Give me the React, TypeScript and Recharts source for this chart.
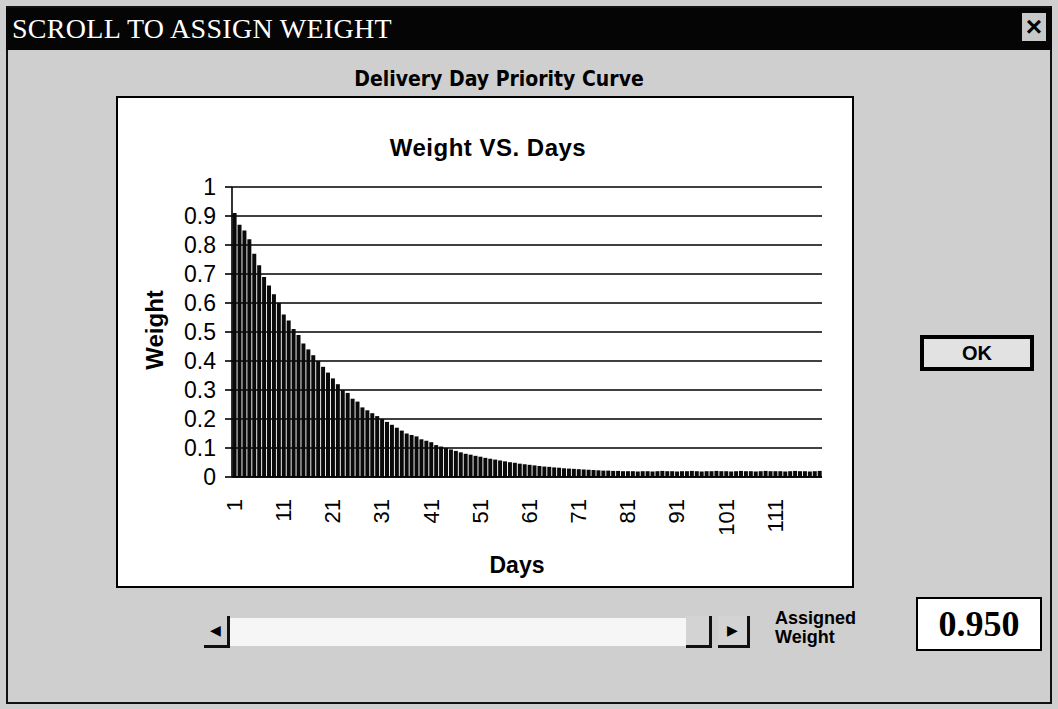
import { BarChart, Bar, XAxis, YAxis, CartesianGrid } from "recharts";

// day numbers on the category axis
const days = Array.from({ length: 120 }, (_, i) => i + 1);

// weight per day
const weights = [
  0.91, 0.87, 0.85, 0.82, 0.77, 0.73, 0.69, 0.66, 0.63, 0.6,
  0.56, 0.54, 0.51, 0.49, 0.46, 0.44, 0.42, 0.4, 0.38, 0.36,
  0.34, 0.32, 0.3, 0.29, 0.27, 0.26, 0.24, 0.23, 0.22, 0.21,
  0.2, 0.19, 0.18, 0.17, 0.16, 0.15, 0.145, 0.14, 0.13, 0.125,
  0.12, 0.11, 0.105, 0.1, 0.095, 0.09, 0.085, 0.08, 0.077, 0.073,
  0.07, 0.066, 0.063, 0.06, 0.057, 0.054, 0.051, 0.049, 0.046, 0.044,
  0.042, 0.04, 0.038, 0.036, 0.035, 0.033, 0.032, 0.03, 0.029, 0.028,
  0.027, 0.026, 0.025, 0.024, 0.023, 0.022, 0.022, 0.021, 0.021, 0.02,
  0.02, 0.02, 0.019, 0.02, 0.02, 0.019, 0.02, 0.021, 0.02, 0.02,
  0.019, 0.02, 0.02, 0.021, 0.02, 0.019, 0.02, 0.02, 0.021, 0.02,
  0.02, 0.019, 0.02, 0.021, 0.02, 0.02, 0.019, 0.02, 0.021, 0.02,
  0.02, 0.02, 0.019, 0.02, 0.021, 0.02, 0.02, 0.019, 0.02, 0.021,
];

const yTicks = [0, 0.1, 0.2, 0.3, 0.4, 0.5, 0.6, 0.7, 0.8, 0.9, 1];

const data = days.map((d, i) => ({ day: d, w: weights[i] }));

const sans = "'Liberation Sans', Arial, sans-serif";
const narrow = "'Liberation Sans Narrow', 'DejaVu Sans Condensed', Arial, sans-serif";
const serif = "'Liberation Serif', 'Times New Roman', serif";

const DayTick = (props: any) => {
  const { x, y, payload } = props;
  const ty = y + 22;
  return (
    <text
      x={x}
      y={ty}
      transform={`rotate(-90 ${x} ${ty})`}
      textAnchor="end"
      dominantBaseline="central"
      fontFamily={sans}
      fontSize={22}
      fill="#000"
    >
      {payload.value}
    </text>
  );
};

export default function App() {
  return (
    <div
      style={{
        position: "absolute",
        left: 0,
        top: 0,
        width: 1058,
        height: 709,
        background: "#cfcfcf",
        overflow: "hidden",
        fontFamily: sans,
      }}
    >
      {/* dialog frame */}
      <div
        style={{
          position: "absolute",
          left: 6,
          top: 6,
          width: 1046,
          height: 698,
          border: "2px solid #111",
          boxSizing: "border-box",
        }}
      />
      {/* title bar */}
      <div
        style={{
          position: "absolute",
          left: 6,
          top: 8,
          width: 1046,
          height: 42,
          background: "#050505",
        }}
      >
        <span
          style={{
            position: "absolute",
            left: 6,
            top: 5,
            color: "#fff",
            fontFamily: serif,
            fontSize: 28,
            letterSpacing: 0.3,
          }}
        >
          SCROLL TO ASSIGN WEIGHT
        </span>
        <div
          style={{
            position: "absolute",
            right: 6,
            top: 5,
            width: 24,
            height: 28,
            background: "#c8c8c8",
            color: "#000",
            fontWeight: 900,
            fontSize: 28,
            textAlign: "center",
            lineHeight: "28px",
          }}
        >
          ×
        </div>
      </div>

      <div
        style={{
          position: "absolute",
          left: 344,
          top: 67,
          width: 310,
          textAlign: "center",
          fontFamily: narrow,
          fontWeight: 700,
          fontSize: 21,
          color: "#000",
        }}
      >
        Delivery Day Priority Curve
      </div>

      {/* chart box */}
      <div
        style={{
          position: "absolute",
          left: 118,
          top: 98,
          width: 734,
          height: 488,
          background: "#fff",
          outline: "2px solid #000",
        }}
      >
        <div
          style={{
            position: "absolute",
            left: 0,
            top: 36,
            width: 740,
            textAlign: "center",
            fontWeight: 700,
            fontSize: 24,
            letterSpacing: 0.5,
            color: "#000",
          }}
        >
          Weight VS. Days
        </div>
        <BarChart
          width={734}
          height={488}
          data={data}
          margin={{ top: 89, right: 30, bottom: 40, left: 0 }}
          barCategoryGap={0.6}
        >
          <CartesianGrid vertical={false} stroke="#000" strokeWidth={1.6} />
          <XAxis
            dataKey="day"
            interval={9}
            height={69}
            tickLine={false}
            tickSize={0}
            tickMargin={0}
            axisLine={{ stroke: "#000", strokeWidth: 1.6 }}
            tick={<DayTick />}
            label={{
              content: (p: any) => {
                const vb = p.viewBox;
                return (
                  <text
                    x={vb.x + vb.width / 2 - 10}
                    y={475}
                    textAnchor="middle"
                    fontFamily={sans}
                    fontWeight={700}
                    fontSize={23}
                    fill="#000"
                  >
                    Days
                  </text>
                );
              },
            }}
          />
          <YAxis
            domain={[0, 1]}
            ticks={yTicks}
            interval={0}
            width={114}
            tickSize={7}
            tickMargin={9}
            axisLine={{ stroke: "#000", strokeWidth: 1.6 }}
            tickLine={{ stroke: "#000", strokeWidth: 1.6 }}
            tick={{ fill: "#000", fontSize: 23, fontFamily: sans }}
            label={{
              content: () => (
                <text
                  x={36}
                  y={232}
                  transform="rotate(-90 36 232)"
                  textAnchor="middle"
                  dominantBaseline="central"
                  fontFamily={sans}
                  fontWeight={700}
                  fontSize={24}
                  fill="#000"
                >
                  Weight
                </text>
              ),
            }}
          />
          <YAxis
            yAxisId="frame"
            orientation="right"
            width={0}
            tick={false}
            tickLine={false}
            axisLine={{ stroke: "#000", strokeWidth: 1.6 }}
          />
          <Bar dataKey="w" fill="#0a0a0a" isAnimationActive={false} />
        </BarChart>
      </div>

      {/* OK button */}
      <div
        style={{
          position: "absolute",
          left: 920,
          top: 335,
          width: 114,
          height: 36,
          border: "4px solid #000",
          boxSizing: "border-box",
          background: "#e2e2e2",
          textAlign: "center",
          lineHeight: "28px",
          fontWeight: 700,
          fontSize: 20,
          color: "#000",
        }}
      >
        OK
      </div>

      {/* scroll bar */}
      <div
        style={{
          position: "absolute",
          left: 204,
          top: 616,
          width: 26,
          height: 32,
          background: "#cfcfcf",
          borderRight: "3px solid #111",
          borderBottom: "3px solid #111",
          boxSizing: "border-box",
          fontSize: 14,
          lineHeight: "28px",
          textAlign: "center",
        }}
      >
        ◀
      </div>
      <div
        style={{
          position: "absolute",
          left: 230,
          top: 618,
          width: 456,
          height: 28,
          background: "#f6f6f6",
        }}
      />
      <div
        style={{
          position: "absolute",
          left: 686,
          top: 616,
          width: 26,
          height: 32,
          background: "#d3d3d3",
          borderRight: "3px solid #111",
          borderBottom: "3px solid #111",
          boxSizing: "border-box",
        }}
      />
      <div
        style={{
          position: "absolute",
          left: 718,
          top: 616,
          width: 32,
          height: 32,
          background: "#d3d3d3",
          borderRight: "3px solid #111",
          borderBottom: "3px solid #111",
          boxSizing: "border-box",
          fontSize: 14,
          lineHeight: "28px",
          textAlign: "center",
        }}
      >
        ▶
      </div>

      <div
        style={{
          position: "absolute",
          left: 775,
          top: 609,
          fontWeight: 900,
          fontSize: 18,
          lineHeight: "19px",
          color: "#000",
        }}
      >
        Assigned
        <br />
        Weight
      </div>

      <div
        style={{
          position: "absolute",
          left: 916,
          top: 597,
          width: 126,
          height: 54,
          border: "2px solid #000",
          boxSizing: "border-box",
          background: "#fff",
          fontFamily: serif,
          fontWeight: 700,
          fontSize: 36,
          lineHeight: "50px",
          textAlign: "center",
          color: "#000",
        }}
      >
        0.950
      </div>
    </div>
  );
}
